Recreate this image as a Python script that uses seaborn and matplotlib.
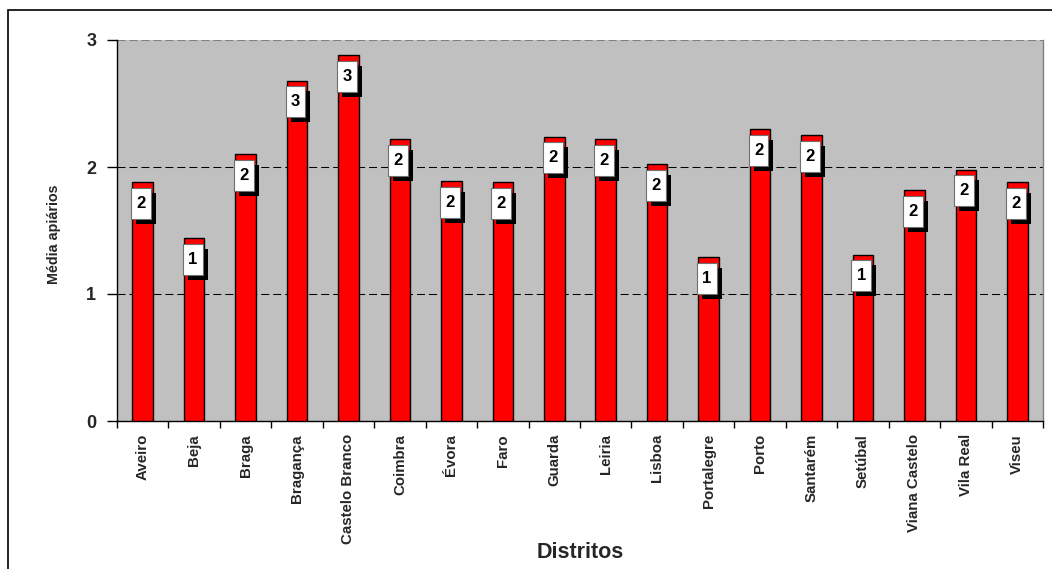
import matplotlib
matplotlib.use("Agg")
import matplotlib.pyplot as plt
from matplotlib.patches import Rectangle
from matplotlib.path import Path
import matplotlib.patheffects as pe
import seaborn as sns
import pandas as pd

distritos = ["Aveiro", "Beja", "Braga", "Bragança", "Castelo Branco", "Coimbra",
             "Évora", "Faro", "Guarda", "Leiria", "Lisboa", "Portalegre", "Porto",
             "Santarém", "Setúbal", "Viana Castelo", "Vila Real", "Viseu"]
media_apiarios = [1.88, 1.44, 2.10, 2.68, 2.88, 2.22, 1.89, 1.88, 2.24, 2.22,
                  2.02, 1.29, 2.30, 2.25, 1.31, 1.82, 1.98, 1.88]
y_ticks = [0, 1, 2, 3]

df = pd.DataFrame({"Distritos": distritos, "Media": media_apiarios})

sns.set_theme(style="white")
plt.rcParams["font.family"] = ["Liberation Sans", "DejaVu Sans"]
plt.rcParams["font.weight"] = "bold"

fig = plt.figure(figsize=(10.52, 5.69), dpi=100)
ax = fig.add_axes([117 / 1052, 1 - 421 / 569, (1043 - 117) / 1052, (421 - 40) / 569])
ax.set_facecolor("#C0C0C0")

sns.barplot(data=df, x="Distritos", y="Media", color="#FF0000", saturation=1,
            width=0.4, edgecolor="black", linewidth=1.0, ax=ax, zorder=3)

ax.set_ylim(0, 3)
ax.set_xlim(-0.5, len(distritos) - 0.5)
ax.set_yticks(y_ticks)
ax.set_yticklabels([str(t) for t in y_ticks], fontsize=13, fontweight="bold")

# category labels on minor ticks (centers), tick marks on major ticks (boundaries)
n = len(distritos)
ax.set_xticks([i - 0.5 for i in range(n + 1)])
ax.set_xticklabels([])
ax.set_xticks(list(range(n)), minor=True)
ax.set_xticklabels(distritos, minor=True, rotation=90, fontsize=10.8,
                   fontweight="bold", va="top", ha="center")
ax.tick_params(axis="x", which="major", direction="out", length=5, width=1,
               color="black", bottom=True)
ax.tick_params(axis="x", which="minor", length=0, pad=9.4, bottom=True)
ax.tick_params(axis="y", direction="out", length=7, width=1, color="black",
               pad=8, left=True)

ax.set_axisbelow(True)
ax.yaxis.grid(True, color="black", linewidth=0.75, linestyle=(0, (7.7, 3.8)))
ax.xaxis.grid(False)
gl = ax.yaxis.get_gridlines()
gl[-1].set_color("#808080")

for side in ["left", "bottom"]:
    ax.spines[side].set_color("black")
    ax.spines[side].set_linewidth(1.0)
ax.spines["right"].set_color("#808080")
ax.spines["right"].set_linewidth(1.0)
ax.spines["top"].set_visible(False)

ax.set_xlabel("Distritos", fontsize=15.5, fontweight="bold")
ax.xaxis.set_label_coords(0.5, -0.318)
ax.set_ylabel("Média apiários", fontsize=10.3, fontweight="bold")
ax.yaxis.set_label_coords(-0.061, 0.49)


def tall_box(x0, y0, width, height, mutation_size):
    """Rectangle with different horizontal / vertical padding."""
    px = 0.32 * mutation_size
    py = 0.48 * mutation_size
    x0, y0 = x0 - px, y0 - py
    x1, y1 = x0 + width + 2 * px, y0 + height + 2 * py
    return Path([(x0, y0), (x1, y0), (x1, y1), (x0, y1), (x0, y0)], closed=True)


# data labels: white boxes with black drop shadow
for i, v in enumerate(media_apiarios):
    lab = str(int(round(v)))
    t = ax.annotate(lab, xy=(i, v), xytext=(-1.1, -15.3),
                    textcoords="offset points", ha="center", va="center",
                    fontsize=12, fontweight="bold", color="black", zorder=6,
                    bbox=dict(boxstyle=tall_box, fc="white", ec="#707070", lw=0.8))
    t.get_bbox_patch().set_path_effects([
        pe.SimplePatchShadow(offset=(3.6, -3.6), shadow_rgbFace="black", alpha=1.0),
        pe.Normal(),
    ])

# outer chart border
fig.patches.append(Rectangle((8 / 1052, -0.2), 1.2, 1.2 - 10 / 569,
                             transform=fig.transFigure, fill=False,
                             edgecolor="black", linewidth=1.2, zorder=0))

fig.savefig("out.png", dpi=100, facecolor="white")
